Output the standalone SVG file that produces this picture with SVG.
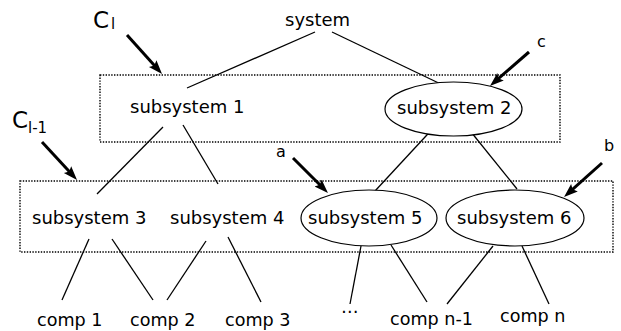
<svg xmlns="http://www.w3.org/2000/svg" width="621" height="331" viewBox="0 0 621 331">
  <style>
    text { font-family: "DejaVu Sans", "Liberation Sans", sans-serif; fill: #000; }
    .lbl { font-size: 18px; }
    .comp { font-size: 17.6px; }
    .big { font-size: 23px; }
    .sub { font-size: 15px; }
    .small { font-size: 16px; }
    .edge { stroke: #000; stroke-width: 1.3; fill: none; }
    .arrow { stroke: #000; stroke-width: 3; fill: none; marker-end: url(#ah); }
    .cluster { fill: none; stroke: #000; stroke-width: 1.4; stroke-dasharray: 1.4 1.4; }
    .ell { fill: #fff; stroke: #000; stroke-width: 1.2; }
  </style>
  <defs>
    <marker id="ah" markerUnits="userSpaceOnUse" markerWidth="16" markerHeight="12" refX="6" refY="5" orient="auto" viewBox="0 0 16 10">
      <path d="M0,0 L14,5 L0,10 L2.5,5 z" fill="#000"/>
    </marker>
  </defs>
  <rect width="621" height="331" fill="#fff"/>

  <g id="clusters">
    <rect id="cluster-l" class="cluster" x="100" y="75" width="460" height="67"/>
    <rect id="cluster-l-1" class="cluster" x="20" y="181" width="593" height="71"/>
  </g>

  <g id="connectors">
    <line class="edge" x1="315" y1="32" x2="187" y2="88"/>
    <line class="edge" x1="332" y1="32" x2="447" y2="87"/>
    <line class="edge" x1="163" y1="127" x2="97" y2="194"/>
    <line class="edge" x1="183" y1="125" x2="218" y2="184"/>
    <line class="edge" x1="438" y1="123" x2="375" y2="191"/>
    <line class="edge" x1="463" y1="122" x2="517" y2="189"/>
    <line class="edge" x1="89" y1="239" x2="62" y2="300"/>
    <line class="edge" x1="112" y1="239" x2="153" y2="300"/>
    <line class="edge" x1="206" y1="241" x2="167" y2="300"/>
    <line class="edge" x1="228" y1="237" x2="261" y2="302"/>
    <line class="edge" x1="361" y1="246" x2="350" y2="304"/>
    <line class="edge" x1="391" y1="245" x2="427" y2="302"/>
    <line class="edge" x1="493" y1="246" x2="447" y2="304"/>
    <line class="edge" x1="522" y1="246" x2="549" y2="304"/>
    <line class="arrow" x1="127" y1="35" x2="156.7" y2="68"/>
    <line class="arrow" x1="42" y1="142" x2="71.6" y2="174.1"/>
    <line class="arrow" x1="293" y1="158" x2="322.3" y2="187.3"/>
    <line class="arrow" x1="602" y1="163" x2="570" y2="191.7"/>
    <line class="arrow" x1="529" y1="52" x2="496" y2="80.7"/>
  </g>

  <g id="system"><text class="lbl" x="285" y="26">system</text></g>
  <g id="subsystem1"><text class="lbl" x="130" y="113">subsystem 1</text></g>
  <g id="subsystem2">
    <ellipse class="ell" cx="453.5" cy="109" rx="68.5" ry="27"/>
    <text class="lbl" x="397" y="114">subsystem 2</text>
  </g>
  <g id="subsystem3"><text class="lbl" x="32" y="224">subsystem 3</text></g>
  <g id="subsystem4"><text class="lbl" x="170" y="224">subsystem 4</text></g>
  <g id="subsystem5">
    <ellipse class="ell" cx="369" cy="218" rx="68" ry="28"/>
    <text class="lbl" x="308" y="224">subsystem 5</text>
  </g>
  <g id="subsystem6">
    <ellipse class="ell" cx="515" cy="218" rx="69" ry="28"/>
    <text class="lbl" x="457" y="224">subsystem 6</text>
  </g>

  <g id="comp1"><text class="comp" x="37" y="326">comp 1</text></g>
  <g id="comp2"><text class="comp" x="130" y="326">comp 2</text></g>
  <g id="comp3"><text class="comp" x="225" y="326">comp 3</text></g>
  <g id="compdots"><text class="comp" x="341" y="313">…</text></g>
  <g id="compn-1"><text class="comp" x="390" y="325">comp n-1</text></g>
  <g id="compn"><text class="comp" x="500" y="322">comp n</text></g>

  <g id="label-Cl">
    <text class="big" x="93" y="28">C</text>
    <text class="sub" x="111" y="29">l</text>
  </g>
  <g id="label-Cl-1">
    <text class="big" x="12" y="128">C</text>
    <text class="sub" x="28" y="133">l-1</text>
  </g>
  <g id="label-a"><text class="small" x="276" y="157">a</text></g>
  <g id="label-b"><text class="small" x="604" y="151">b</text></g>
  <g id="label-c"><text class="small" x="537" y="47">c</text></g>
</svg>
